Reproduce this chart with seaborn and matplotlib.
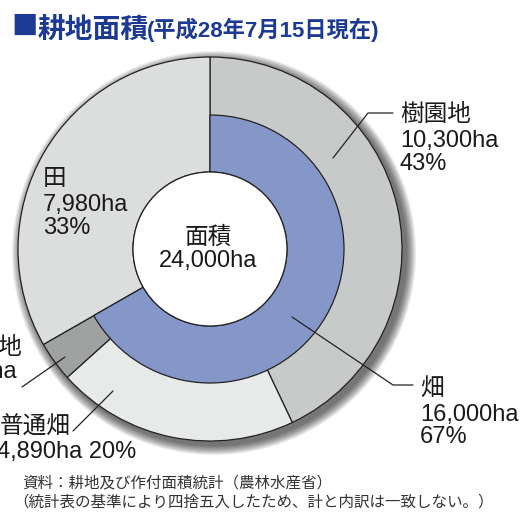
import numpy as np
import matplotlib
matplotlib.use("Agg")
import matplotlib.pyplot as plt
import seaborn as sns
from matplotlib.patches import Circle

# 耕地面積データ (平成28年7月15日現在)
total_ha = 24000
outer_labels = ['樹園地', '普通畑', '牧草地', '田']
outer_ha = [10300, 4890, 810, 7980]
inner_labels = ['畑', '田']
inner_ha = [16000, 7980]

outer_colors = ['#c8cac9', '#e8e9e9', '#a0a2a1', '#dcdddd']
blue = '#8497c8'

sns.set_theme(style='white')
plt.rcParams['font.family'] = ['Liberation Sans', 'Noto Sans CJK JP']

W, H = 531, 518
fig = plt.figure(figsize=(W / 100, H / 100), dpi=100)
ax = fig.add_axes([0, 0, 1, 1])

def Y(y):
    # 画像の上からの座標 -> データ座標
    return H - y

cx, cy = 210, Y(249)
R, r_mid, r_hole = 192, 134, 77

# 影（右下にぼかし）
for i in range(14):
    ax.add_patch(Circle((cx + 4, cy - 4), R + 1 + i * 0.7,
                        color='black', alpha=0.05, lw=0, zorder=0))

# 外側（田は内側まで通す）
w_out, _ = ax.pie(outer_ha, radius=R, center=(cx, cy), startangle=90,
                  counterclock=False, colors=outer_colors,
                  wedgeprops=dict(width=R - r_hole, edgecolor='#222222', linewidth=0.9))
# 内側（畑）
w_in, _ = ax.pie(inner_ha, radius=r_mid, center=(cx, cy), startangle=90,
                 counterclock=False, colors=[blue, 'none'],
                 wedgeprops=dict(width=r_mid - r_hole, edgecolor='#222222', linewidth=0.9))
w_in[1].set_visible(False)
ax.add_patch(Circle((cx, cy), r_hole, facecolor='white', edgecolor='#222222', lw=0.9, zorder=5))

ax.set_xlim(0, W)
ax.set_ylim(0, H)
ax.set_aspect('equal')
ax.axis('off')

fs = 17
lc = '#1a1a1a'

def label(x, baselines, lines, ha='left'):
    for b, s in zip(baselines, lines):
        ax.text(x, Y(b), s, fontsize=fs, color=lc, ha=ha, va='baseline', zorder=10)

def pct(v):
    return f"{round(v / total_ha * 100)}%"

label(400, [121, 147, 170], [outer_labels[0], f"{outer_ha[0]:,}ha", pct(outer_ha[0])])
label(43, [185, 211, 234], [outer_labels[3], f"{outer_ha[3]:,}ha", pct(outer_ha[3])])
label(420, [395, 421, 443], [inner_labels[0], f"{inner_ha[0]:,}ha", pct(inner_ha[0])])
label(0, [434], [outer_labels[1]])
label(-3, [458], [f"{outer_ha[1]:,}ha {pct(outer_ha[1])}"])
label(-49, [354, 378, 401], [outer_labels[2], f"{outer_ha[2]:,}ha", pct(outer_ha[2])])
label(cx - 2, [244, 267], ['面積', f"{total_ha:,}ha"], ha='center')

# 引出線
leaders = [
    [(333, 158), (368, 113), (393, 113)],
    [(292, 317), (393, 385), (413, 385)],
    [(65, 357), (22, 387)],
    [(113, 391), (73, 431)],
]
for pts in leaders:
    xs = [p[0] for p in pts]
    ys = [Y(p[1]) for p in pts]
    ax.plot(xs, ys, color='#222222', lw=0.9, zorder=8)

# タイトル
title_c = '#1c3a94'
ax.text(25, Y(27), '■', fontsize=19, color=title_c, ha='center', va='center',
        family=['Noto Sans CJK JP'])
ax.text(38, Y(38), '耕地面積', fontsize=20, fontweight='bold', color=title_c, va='baseline')
ax.text(147, Y(37), '(平成28年7月15日現在)', fontsize=16, fontweight='bold', color=title_c, va='baseline')

# 出典
ax.text(22, Y(487), '資料：耕地及び作付面積統計（農林水産省）', fontsize=11.2, color='#333333', va='baseline')
ax.text(13, Y(507), '（統計表の基準により四捨五入したため、計と内訳は一致しない。）', fontsize=11.2, color='#333333', va='baseline')

fig.savefig('out.png', dpi=100)
